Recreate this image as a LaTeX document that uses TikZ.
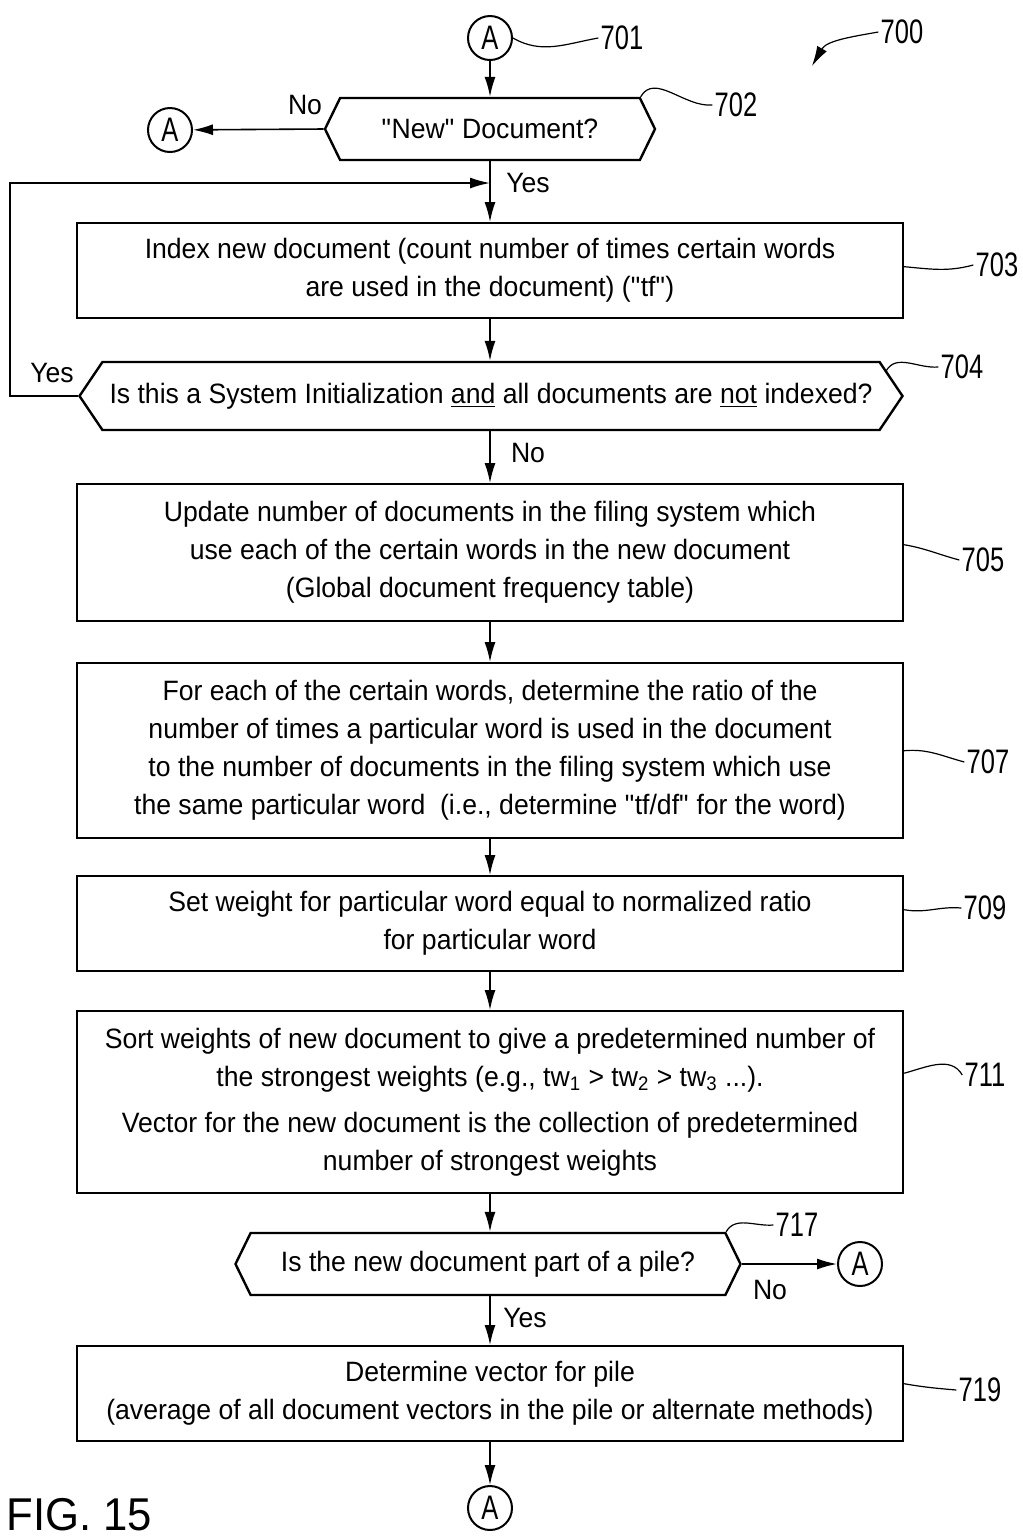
\documentclass[tikz,border=0pt]{standalone}
\usepackage{fontspec}
\setmainfont[FakeStretch=0.95]{Liberation Sans}
\newfontfamily\refnum[FakeStretch=0.75]{Liberation Sans}
\usetikzlibrary{arrows.meta,positioning,shapes.symbols}

\begin{document}
\begin{tikzpicture}[x=0.5pt,y=-0.5pt,
		proc/.style={draw, line width=1.2pt, minimum width=413pt, anchor=north, align=center, font=\fontsize{14}{19}\selectfont},
		decide/.style={draw, line width=1.2pt, signal, signal to=west and east, align=center, inner sep=0pt, font=\fontsize{14}{19}\selectfont},
		conn/.style={draw, circle, line width=1pt, minimum size=22pt, inner sep=0pt, font=\refnum\fontsize{17}{19}\selectfont},
		ref/.style={inner sep=1pt, font=\refnum\fontsize{17}{19}\selectfont},
		lbl/.style={inner sep=1pt, font=\fontsize{14}{16}\selectfont},
		lead/.style={line width=0.6pt},
		flow/.style={line width=0.8pt, -{Latex[length=10pt,width=5.5pt]}}
	]
	\useasboundingbox (0,0) rectangle (1023,1539);

	% connectors
	\node[conn] (atop) at (490,38) {A};
	\node[conn] (aleft) at (170,130) {A};
	\node[conn] (aright) at (860,1264) {A};
	\node[conn] (abot) at (490,1508) {A};

	% decisions and steps
	\node[decide, minimum width=165pt, minimum height=31pt, signal pointer angle=128] (d702) at (490,129) {\textquotedbl New\textquotedbl{} Document?};
	\node[proc, minimum height=47.5pt] (b703) at (490,222) {Index new document (count number of times certain words\\are used in the document) (\textquotedbl tf\textquotedbl)};
	\node[decide, minimum width=411.5pt, minimum height=34pt, signal pointer angle=112] (d704) at (491,396) {Is this a System Initialization \underline{and} all documents are \underline{not} indexed?};
	\node[proc, minimum height=68.5pt] (b705) at (490,483) {Update number of documents in the filing system which\\use each of the certain words in the new document\\(Global document frequency table)};
	\node[proc, minimum height=87.5pt] (b707) at (490,662) {For each of the certain words, determine the ratio of the\\number of times a particular word is used in the document\\to the number of documents in the filing system which use\\the same particular word\ \ (i.e., determine \textquotedbl tf/df\textquotedbl{} for the word)};
	\node[proc, minimum height=47.5pt] (b709) at (490,875) {Set weight for particular word equal to normalized ratio\\for particular word};
	\node[proc, minimum height=91pt] (b711) at (490,1010) {Sort weights of new document to give a predetermined number of\\the strongest weights (e.g., tw\textsubscript{1} > tw\textsubscript{2} > tw\textsubscript{3} ...).\\[4pt]Vector for the new document is the collection of predetermined\\number of strongest weights};
	\node[decide, minimum width=252.5pt, minimum height=31pt, signal pointer angle=128] (d717) at (488,1264) {Is the new document part of a pile?};
	\node[proc, minimum height=47.5pt] (b719) at (490,1345) {Determine vector for pile\\(average of all document vectors in the pile or alternate methods)};

	% reference numerals
	\node[ref] (l700) at (902,32) {700};
	\node[ref] (l701) at (622,38) {701};
	\node[ref] (l702) at (736,105) {702};
	\node[ref] (l703) at (997,265) {703};
	\node[ref] (l704) at (962,367) {704};
	\node[ref] (l705) at (983,560) {705};
	\node[ref] (l707) at (988,762) {707};
	\node[ref] (l709) at (985,908) {709};
	\node[ref] (l711) at (985,1075) {711};
	\node[ref] (l717) at (797,1225) {717};
	\node[ref] (l719) at (980,1390) {719};
	\node[font=\fontsize{23}{25}\selectfont, inner sep=0pt, anchor=base west] (fig) at (6,1530) {FIG. 15};

	% branch labels
	\node[lbl] (no702) at (305,105) {No};
	\node[lbl] (yes702) at (528,183) {Yes};
	\node[lbl] (yes704) at (52,373) {Yes};
	\node[lbl] (no704) at (528,453) {No};
	\node[lbl] (no717) at (770,1290) {No};
	\node[lbl] (yes717) at (525,1318) {Yes};

	\coordinate (join) at (490,183);
	\coordinate (loop) at (10,183);
	\coordinate (p700) at (812,66);

	% flow
	\draw[flow] (atop) -- (d702);
	\draw[flow] (d702.west) -- (aleft);
	\draw[flow] (d702.south) -- (b703.north);
	\draw[flow] (b703) -- (b703 |- d704.north);
	\draw[flow] (d704.west) -| (loop) -- (join);
	\draw[flow] (b705.north |- d704.south) -- (b705.north);
	\draw[flow] (b705) -- (b707);
	\draw[flow] (b707) -- (b709);
	\draw[flow] (b709) -- (b711);
	\draw[flow] (b711.south) -- (b711.south |- d717.north);
	\draw[flow] (d717.east) -- (aright);
	\draw[flow] (b719.north |- d717.south) -- (b719.north);
	\draw[flow] (b719.south) -- (abot);

	% leaders
	\draw[flow, line width=0.6pt] (l700.west) to[out=190,in=60] (p700);
	\draw[lead] (atop.east) to[out=-30,in=190] (l701.west);
	\draw[lead] (d702.north east) to[out=60,in=185] (l702.west);
	\draw[lead] ([yshift=2pt]b703.east) to[out=-5,in=195] (l703.west);
	\draw[lead] ([xshift=3pt,yshift=-5pt]d704.north east) to[out=60,in=185] (l704.west);
	\draw[lead] ([yshift=4pt]b705.east) to[out=-10,in=165] (l705.west);
	\draw[lead] (b707.east) to[out=5,in=165] (l707.west);
	\draw[lead] ([yshift=7pt]b709.east) to[out=-10,in=175] (l709.west);
	\draw[lead] ([yshift=14.5pt]b711.east) to[out=15,in=120] (l711.west);
	\draw[lead] (d717.north east) to[out=60,in=185] (l717.west);
	\draw[lead] ([yshift=5pt]b719.east) to[out=-10,in=175] (l719.west);
\end{tikzpicture}
\end{document}
